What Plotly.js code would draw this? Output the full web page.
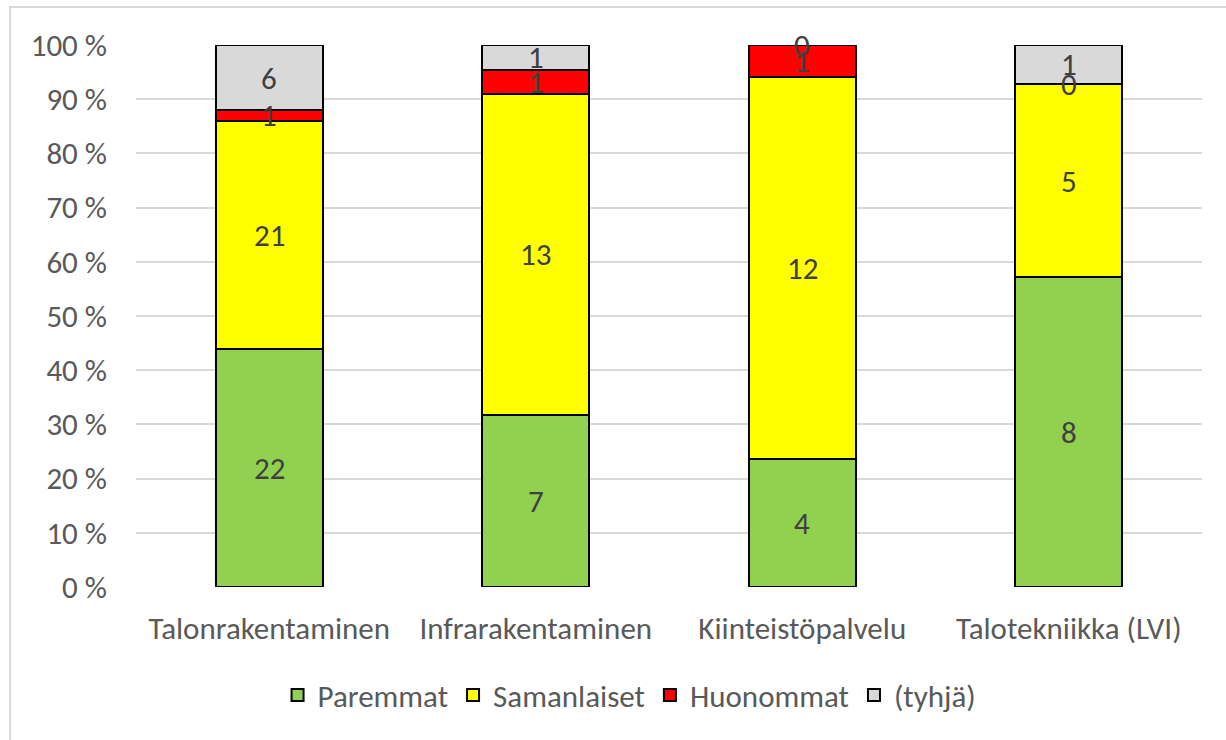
<!DOCTYPE html>
<html>
<head>
<meta charset="utf-8">
<script src="https://cdn.plot.ly/plotly-3.0.1.min.js"></script>
<style>
  html, body { margin: 0; padding: 0; background: #ffffff; }
  #chart { width: 1226px; height: 740px; }
</style>
</head>
<body>
<div id="chart"></div>
<script>
// ---- data ----
const categories = ["Talonrakentaminen", "Infrarakentaminen", "Kiinteistöpalvelu", "Talotekniikka (LVI)"];
const seriesNames = ["Paremmat", "Samanlaiset", "Huonommat", "(tyhjä)"];
const paremmat    = [22, 7, 4, 8];
const samanlaiset = [21, 13, 12, 5];
const huonommat   = [1, 1, 1, 0];
const tyhja       = [6, 1, 0, 1];
const yTicks = [0, 10, 20, 30, 40, 50, 60, 70, 80, 90, 100];

const seriesValues = [paremmat, samanlaiset, huonommat, tyhja];
const seriesColors = ["#92D050", "#FFFF00", "#FF0000", "#D9D9D9"];

const FONT = "Calibri, Carlito, 'Liberation Sans', Arial, sans-serif";
const FS = 31;

const traces = seriesValues.map((vals, i) => ({
  type: "bar",
  name: seriesNames[i],
  x: categories,
  y: vals,
  marker: { color: seriesColors[i], line: { color: "#000000", width: 2 } },
  hoverinfo: "x+y+name"
}));

// data labels at segment centres, computed from the normalised data
const totals = categories.map((_, j) => seriesValues.reduce((s, v) => s + v[j], 0));
const annotations = [];
categories.forEach((cat, j) => {
  let base = 0;
  seriesValues.forEach((vals) => {
    const pct = vals[j] / totals[j] * 100;
    annotations.push({
      x: cat, y: base + pct / 2, xref: "x", yref: "y",
      text: String(vals[j]), showarrow: false,
      font: { family: FONT, size: FS, color: "#404040" },
      xanchor: "center", yanchor: "middle"
    });
    base += pct;
  });
});

const layout = {
  width: 1226, height: 740,
  margin: { l: 136, r: 24, t: 45, b: 153 },
  paper_bgcolor: "#ffffff", plot_bgcolor: "#ffffff",
  barmode: "stack", barnorm: "percent",
  bargap: 0.6,
  font: { family: FONT, size: FS, color: "#595959" },
  xaxis: {
    type: "category",
    showgrid: false, zeroline: false, showline: false,
    ticks: "", ticklabelstandoff: 20,
    tickfont: { family: FONT, size: FS, color: "#595959" }
  },
  yaxis: {
    range: [0, 100], tickvals: yTicks, ticktext: yTicks.map(v => v + " %"),
    showgrid: true, gridcolor: "#D9D9D9", gridwidth: 2,
    zeroline: false, showline: false, ticks: "", ticklabelstandoff: 28,
    tickfont: { family: FONT, size: FS, color: "#595959" }
  },
  showlegend: true,
  legend: {
    orientation: "h", x: 0.463, xanchor: "center", y: -0.2, yanchor: "middle",
    font: { family: FONT, size: FS, color: "#595959" },
    itemwidth: 30, traceorder: "normal", itemclick: false
  },
  annotations: annotations,
  shapes: [{
    type: "rect", xref: "paper", yref: "paper",
    x0: (10 - 136) / 1066, x1: (1240 - 136) / 1066,
    y0: (587 - 760) / 542, y1: (587 - 7) / 542,
    line: { color: "#D9D9D9", width: 2 }, fillcolor: "rgba(0,0,0,0)", layer: "below"
  }]
};

Plotly.newPlot("chart", traces, layout, { displayModeBar: false, staticPlot: true });
</script>
</body>
</html>
